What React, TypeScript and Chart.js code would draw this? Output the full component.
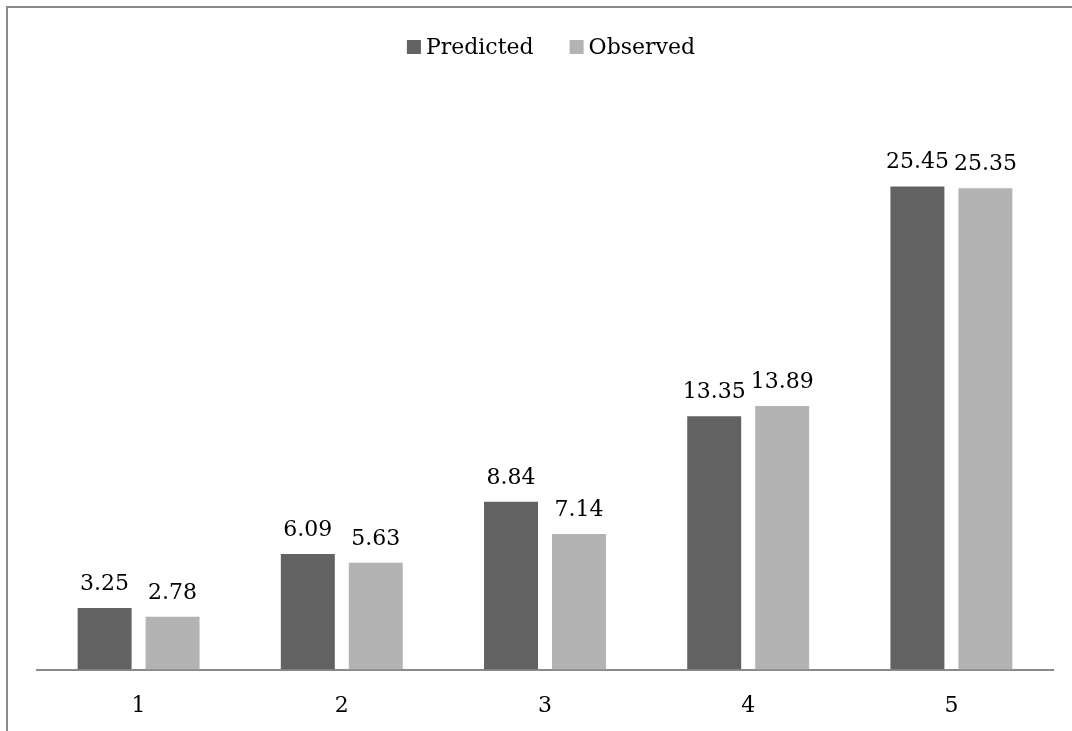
import React, { useEffect, useRef } from "react";
import { Chart, registerables } from "chart.js";

Chart.register(...registerables);

const categories = ["1", "2", "3", "4", "5"];
const predicted = [3.25, 6.09, 8.84, 13.35, 25.45];
const observed = [2.78, 5.63, 7.14, 13.89, 25.35];
const seriesNames = ["Predicted", "Observed"];
const seriesColors = ["#626262", "#b3b3b3"];

const FONT = "'DejaVu Serif', serif";

const framePlugin = {
  id: "frame",
  beforeDraw(chart: any) {
    const ctx = chart.ctx;
    ctx.save();
    ctx.fillStyle = "#ffffff";
    ctx.fillRect(0, 0, chart.width, chart.height);
    ctx.fillStyle = "#8a8a8a";
    ctx.fillRect(6, 6, chart.width - 6, 2);
    ctx.fillRect(6, 6, 2, chart.height - 6);
    ctx.restore();
  },
};

const labelsPlugin = {
  id: "valueLabels",
  afterDatasetsDraw(chart: any) {
    const ctx = chart.ctx;
    ctx.save();
    ctx.font = `22px ${FONT}`;
    ctx.fillStyle = "#000000";
    ctx.textAlign = "center";
    ctx.textBaseline = "alphabetic";
    chart.data.datasets.forEach((ds: any, i: number) => {
      const meta = chart.getDatasetMeta(i);
      meta.data.forEach((bar: any, j: number) => {
        ctx.fillText(Number(ds.data[j]).toFixed(2), bar.x, bar.y - 18);
      });
    });
    ctx.restore();
  },
};

const legendPlugin = {
  id: "customLegend",
  afterDraw(chart: any) {
    const ctx = chart.ctx;
    ctx.save();
    ctx.font = `22px ${FONT}`;
    ctx.textBaseline = "middle";
    ctx.textAlign = "left";
    const box = 14;
    const gapText = 5;
    const gapItem = 36;
    const widths = seriesNames.map((n) => ctx.measureText(n).width);
    const total =
      widths.reduce((a, b) => a + b, 0) +
      seriesNames.length * (box + gapText) +
      gapItem * (seriesNames.length - 1);
    const ca = chart.chartArea;
    let x = (ca.left + ca.right) / 2 + 6 - total / 2;
    const cy = 47;
    seriesNames.forEach((n, i) => {
      ctx.fillStyle = seriesColors[i];
      ctx.fillRect(x, cy - box / 2, box, box);
      x += box + gapText;
      ctx.fillStyle = "#000000";
      ctx.fillText(n, x, cy + 1);
      x += widths[i] + gapItem;
    });
    ctx.restore();
  },
};

export default function App() {
  const ref = useRef<HTMLCanvasElement | null>(null);
  useEffect(() => {
    if (!ref.current) return;
    const chart = new Chart(ref.current, {
      type: "bar",
      data: {
        labels: categories,
        datasets: [
          {
            label: seriesNames[0],
            data: predicted,
            backgroundColor: seriesColors[0],
            categoryPercentage: 0.669,
            barPercentage: 0.794,
          },
          {
            label: seriesNames[1],
            data: observed,
            backgroundColor: seriesColors[1],
            categoryPercentage: 0.669,
            barPercentage: 0.794,
          },
        ],
      },
      options: {
        animation: false,
        responsive: false,
        maintainAspectRatio: false,
        layout: { padding: { left: 37, right: 19, top: 100, bottom: -11 } },
        plugins: {
          legend: { display: false },
          tooltip: { enabled: false },
        },
        scales: {
          x: {
            grid: { display: false, drawTicks: false },
            border: { display: true, color: "#8a8a8a", width: 2 },
            ticks: {
              color: "#000000",
              padding: 23,
              font: { family: FONT, size: 22 },
            },
          },
          y: {
            display: false,
            min: 0,
            max: 30,
          },
        },
      },
      plugins: [framePlugin, labelsPlugin, legendPlugin],
    });
    return () => chart.destroy();
  }, []);
  return (
    <div style={{ position: "absolute", left: 0, top: 0, width: 1072, height: 731 }}>
      <canvas ref={ref} width={1072} height={731} style={{ display: "block" }} />
    </div>
  );
}
